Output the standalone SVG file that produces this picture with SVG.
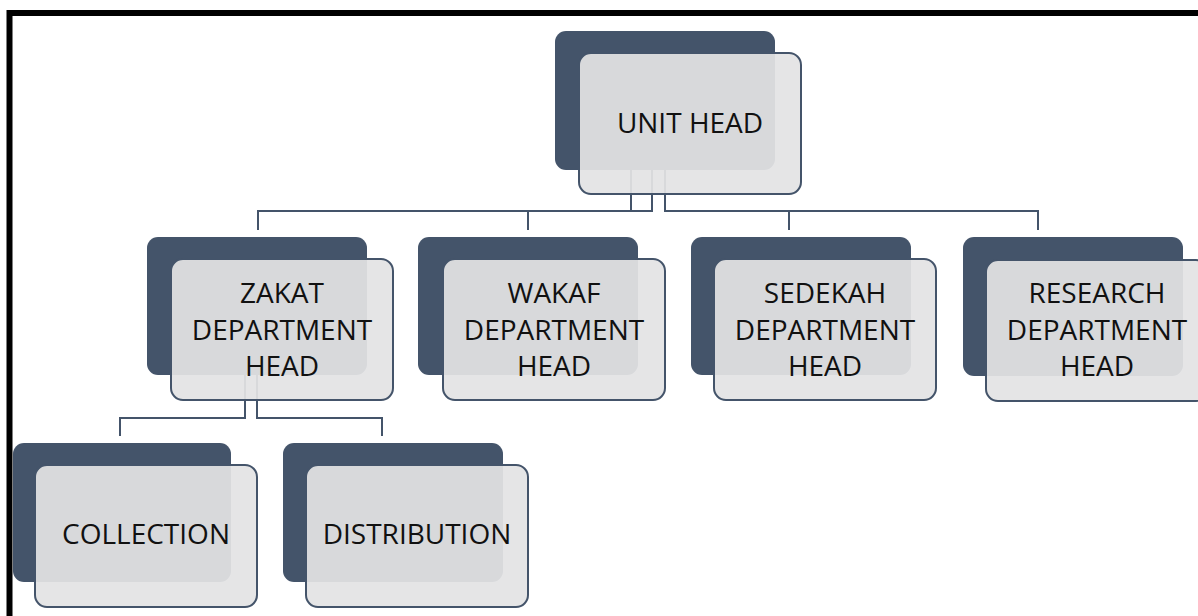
<svg xmlns="http://www.w3.org/2000/svg" width="1198" height="616" viewBox="0 0 1198 616">
<style>
.dk{fill:#44546a;}
.lt{fill:#e3e3e4;fill-opacity:0.93;stroke:#44546a;stroke-width:2;}
.cn{fill:none;stroke:#44546a;stroke-width:2;}
.tx{font-family:"Open Sans","Noto Sans",sans-serif;font-size:28px;fill:#111;text-anchor:middle;}
</style>
<rect width="1198" height="616" fill="#fff"/>
<path d="M9.5 616 V13 H1198" fill="none" stroke="#000" stroke-width="6"/>
<g id="connectors">
<path class="cn" d="M631 170 V211 H258 V230"/>
<path class="cn" d="M652 170 V211 H528 V230"/>
<path class="cn" d="M665 170 V211 H789 V230"/>
<path class="cn" d="M665 170 V211 H1038 V230"/>
<path class="cn" d="M245 375 V418 H120 V436"/>
<path class="cn" d="M257 375 V418 H382 V436"/>
</g>
<g id="unit-head">
<rect class="dk" x="555" y="31" width="220" height="139" rx="11"/>
<rect class="lt" x="579" y="53" width="222" height="141" rx="12"/>
<text class="tx" x="690" y="133">UNIT HEAD</text>
</g>
<g id="zakat">
<rect class="dk" x="147" y="237" width="220" height="138" rx="11"/>
<rect class="lt" x="171" y="259" width="222" height="141" rx="12"/>
<text class="tx" x="282" y="303">ZAKAT</text>
<text class="tx" x="282" y="339.5">DEPARTMENT</text>
<text class="tx" x="282" y="376">HEAD</text>
</g>
<g id="wakaf">
<rect class="dk" x="418" y="237" width="220" height="138" rx="11"/>
<rect class="lt" x="443" y="259" width="222" height="141" rx="12"/>
<text class="tx" x="554" y="303">WAKAF</text>
<text class="tx" x="554" y="339.5">DEPARTMENT</text>
<text class="tx" x="554" y="376">HEAD</text>
</g>
<g id="sedekah">
<rect class="dk" x="691" y="237" width="220" height="138" rx="11"/>
<rect class="lt" x="714" y="259" width="222" height="141" rx="12"/>
<text class="tx" x="825" y="303">SEDEKAH</text>
<text class="tx" x="825" y="339.5">DEPARTMENT</text>
<text class="tx" x="825" y="376">HEAD</text>
</g>
<g id="research">
<rect class="dk" x="963" y="237" width="220" height="139" rx="11"/>
<rect class="lt" x="986" y="260" width="222" height="141" rx="12"/>
<text class="tx" x="1097" y="303">RESEARCH</text>
<text class="tx" x="1097" y="339.5">DEPARTMENT</text>
<text class="tx" x="1097" y="376">HEAD</text>
</g>
<g id="collection">
<rect class="dk" x="13" y="443" width="218" height="139" rx="11"/>
<rect class="lt" x="35" y="465" width="222" height="142" rx="12"/>
<text class="tx" x="146" y="544">COLLECTION</text>
</g>
<g id="distribution">
<rect class="dk" x="283" y="443" width="220" height="139" rx="11"/>
<rect class="lt" x="306" y="465" width="222" height="142" rx="12"/>
<text class="tx" x="417" y="544">DISTRIBUTION</text>
</g>
</svg>
